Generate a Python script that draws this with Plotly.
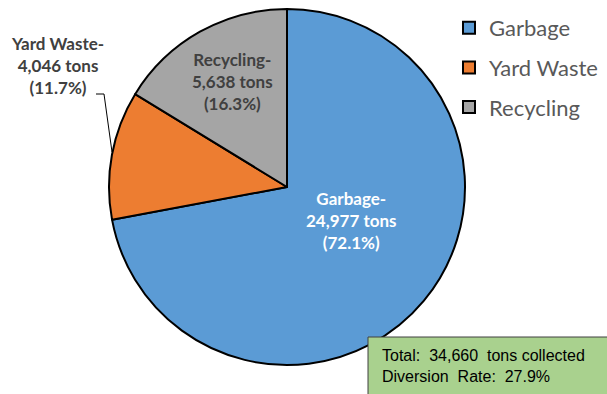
import plotly.graph_objects as go

W, H = 607, 394
categories = ["Garbage", "Yard Waste", "Recycling"]
tons = [24977, 4046, 5638]
colors = ["#5B9BD5", "#ED7D31", "#A5A5A5"]
total_tons = 34660
diversion_rate = 27.9

total = sum(tons)
pcts = [t / total * 100 for t in tons]

def px(x):
    return x / W

def py(y):
    return 1 - y / H

cx, cy, r = 287, 187, 178

fig = go.Figure()
fig.add_trace(go.Pie(
    labels=categories, values=tons, sort=False, direction="clockwise", rotation=0,
    marker=dict(colors=colors, line=dict(color="black", width=2)),
    textinfo="none", hoverinfo="label+value+percent", showlegend=False,
    domain=dict(x=[px(cx - r), px(cx + r)], y=[py(cy + r), py(cy - r)]),
))

# legend via dummy traces
for i, (c, col) in enumerate(zip(categories, colors)):
    fig.add_trace(go.Scatter(
        x=[None], y=[None], mode="markers", name=c, legendgroup=c,
        marker=dict(symbol="square", size=12, color=col, line=dict(color="black", width=2)),
    ))

label_pos = [(351, 221, "white"), (57, 66, "#404040"), (232, 81, "#404040")]
for (x, y, col), c, t, p in zip(label_pos, categories, tons, pcts):
    fig.add_annotation(
        x=px(x), y=py(y), xref="paper", yref="paper", showarrow=False,
        xanchor="center", yanchor="middle",
        text=f"<b>{c}-<br>{t:,} tons<br>({p:.1f}%)</b>",
        font=dict(family="Lato", size=17, color=col), align="center",
    )

# leader line for yard waste
fig.add_shape(type="path", xref="paper", yref="paper",
              path=f"M {px(96)} {py(94)} L {px(104)} {py(94)} L {px(112)} {py(152)}",
              line=dict(color="black", width=1))

# info box
fig.add_shape(type="rect", xref="paper", yref="paper",
              x0=px(368), x1=px(612), y0=py(398), y1=py(337),
              fillcolor="#A9D18E", line=dict(color="#404040", width=1))
fig.add_annotation(
    x=px(380), y=py(366), xref="paper", yref="paper", showarrow=False,
    xanchor="left", yanchor="middle", align="left",
    text=f"Total:  {total_tons:,}  tons collected<br>Diversion  Rate:  {diversion_rate}%",
    font=dict(family="Liberation Sans", size=16, color="black"),
)

fig.update_layout(
    width=W, height=H, margin=dict(l=0, r=0, t=0, b=0),
    paper_bgcolor="white", plot_bgcolor="white",
    xaxis=dict(visible=False), yaxis=dict(visible=False),
    legend=dict(x=px(449), y=py(7), xanchor="left", yanchor="top",
                font=dict(family="Lato", size=22, color="#595959"),
                tracegroupgap=8, itemwidth=30, bgcolor="rgba(0,0,0,0)"),
)
fig.write_html("out.html")
